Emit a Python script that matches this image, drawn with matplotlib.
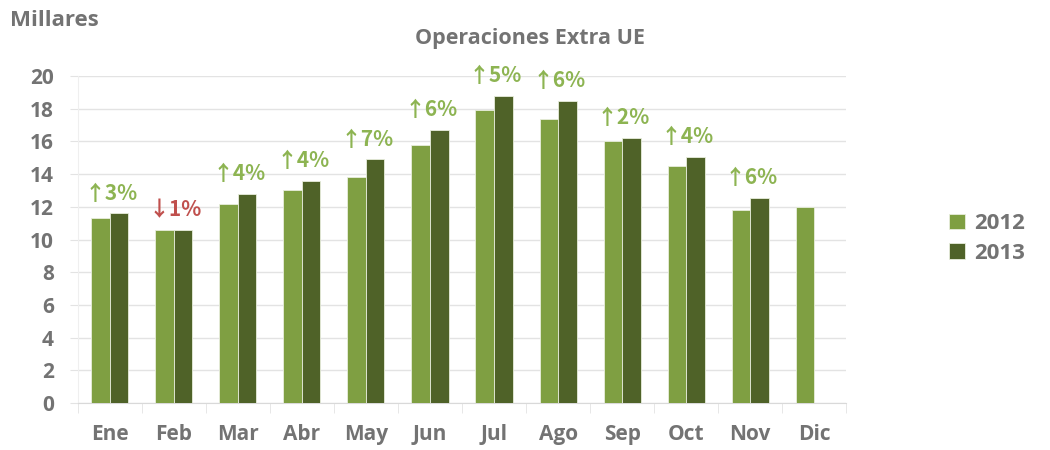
import numpy as np
import matplotlib.pyplot as plt

# data (thousands)
months = ["Ene", "Feb", "Mar", "Abr", "May", "Jun", "Jul", "Ago", "Sep", "Oct", "Nov", "Dic"]
ops_2012 = [11.3, 10.6, 12.2, 13.0, 13.8, 15.8, 17.9, 17.4, 16.0, 14.5, 11.8, 12.0]
ops_2013 = [11.6, 10.6, 12.8, 13.6, 14.9, 16.7, 18.8, 18.5, 16.2, 15.05, 12.55, np.nan]
changes = [3, -1, 4, 4, 7, 6, 5, 6, 2, 4, 6]

C2012 = "#7F9F42"
C2013 = "#4F6228"
UP = "#8DB452"
DOWN = "#C0504D"
GREY = "#737373"
LINE = "#E3E3E3"

plt.rcParams["font.family"] = ["Open Sans", "DejaVu Sans"]

fig = plt.figure(figsize=(10.5, 4.5), dpi=100)
ax = fig.add_axes([0.074, 0.1044, 0.732, 0.7266])

x = np.arange(len(months))
w = 0.29
ax.bar(x - w / 2, ops_2012, w, color=C2012, edgecolor="#E8EEDC", linewidth=0.6, label="2012", zorder=3)
ax.bar(x + w / 2, ops_2013, w, color=C2013, edgecolor="#E8EEDC", linewidth=0.6, label="2013", zorder=3)

# change labels above each pair
for i, c in enumerate(changes):
    top = max(ops_2012[i], ops_2013[i])
    arrow = "\u2191" if c >= 0 else "\u2193"
    col = UP if c >= 0 else DOWN
    ax.text(x[i] + 0.02, top + 0.6, f"{arrow}{abs(c)}%", ha="center", va="bottom",
            fontsize=15, fontweight="bold", color=col,
            family=["Noto Sans CJK JP", "DejaVu Sans"], zorder=4)

ax.set_xlim(-0.5, len(months) - 0.5)
ax.set_ylim(0, 20)
ax.set_yticks(range(0, 21, 2))
ax.yaxis.grid(True, color=LINE, linewidth=1, zorder=0)
ax.set_axisbelow(True)

ax.set_xticks(x)
ax.set_xticklabels(months)
ax.set_xticks(np.arange(-0.5, len(months), 1), minor=True)
ax.tick_params(axis="x", which="major", length=0, pad=15)
ax.tick_params(axis="x", which="minor", length=7, color=LINE)
ax.tick_params(axis="y", length=6, color=LINE, pad=11)
for lab in ax.get_xticklabels() + ax.get_yticklabels():
    lab.set_fontsize(15)
    lab.set_fontweight("bold")
    lab.set_color(GREY)

for s in ["top", "right"]:
    ax.spines[s].set_visible(False)
ax.spines["left"].set_color("#EFEFEF")
ax.spines["bottom"].set_color("#D9D9D9")

fig.text(0.505, 0.915, "Operaciones Extra UE", ha="center", va="center",
         fontsize=15.5, fontweight="bold", color=GREY)
fig.text(0.01, 0.955, "Millares", ha="left", va="center",
         fontsize=16, fontweight="bold", color=GREY)

leg = fig.legend(loc="center left", bbox_to_anchor=(0.885, 0.47), frameon=False,
                 fontsize=16, handlelength=0.7, handleheight=0.7, handletextpad=0.4,
                 labelspacing=0.4)
for t in leg.get_texts():
    t.set_color(GREY)
    t.set_fontweight("bold")

fig.savefig("out.png", dpi=100)
